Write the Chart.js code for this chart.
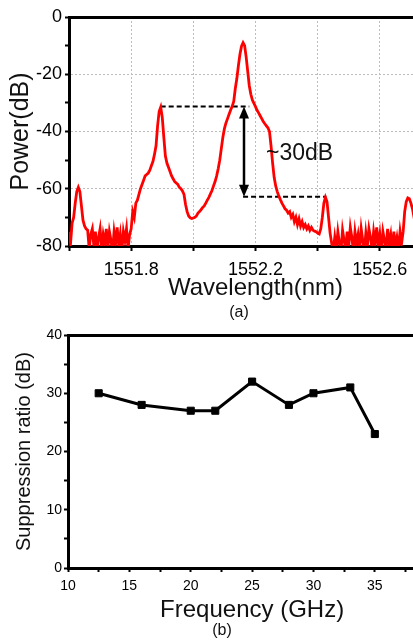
<!DOCTYPE html>
<html>
<head>
<meta charset="utf-8">
<script src="https://cdn.jsdelivr.net/npm/chart.js@4.4.0/dist/chart.umd.min.js"></script>
<style>
  html, body { margin: 0; padding: 0; background: #fff; overflow: hidden; }
  .wrap { position: relative; width: 413px; height: 641px; overflow: hidden; }
  canvas { position: absolute; left: 0; }
  #spectrumChart { top: 0; }
  #ratioChart { top: 320px; }
  .panel { position: absolute; width: 100px; text-align: center; font: 16px/16px "Liberation Sans", Arial, sans-serif; color: #111; }
</style>
</head>
<body>
<div class="wrap">
  <canvas id="spectrumChart" width="450" height="320"></canvas>
  <canvas id="ratioChart" width="450" height="321"></canvas>
  <div class="panel" style="left:189px; top:304px;">(a)</div>
  <div class="panel" style="left:172px; top:622px;">(b)</div>
</div>
<script>
// (a) optical spectrum, one sample every 5 pm starting at 1551.600 nm
const lambdaStart = 1551.6;
const lambdaStep = 0.005;
const power = [
  -75, -79, -72, -70, -65, -61, -59.5, -61, -66, -71,
  -73, -74, -74.5, -81, -76, -74, -80, -75, -82, -77,
  -74, -81, -76, -79, -74, -81, -75, -78, -82, -75,
  -79, -73.5, -80, -76, -82, -75, -78, -74, -81, -76,
  -74, -68, -70, -65, -64, -62, -60, -58.5, -57, -55.5,
  -55, -54.5, -53.5, -52, -50.5, -48, -45, -38, -33, -31.5,
  -35, -42, -48.5, -51, -52.5, -54, -55.5, -56.5, -57.5, -58,
  -58.5, -59.5, -60, -60.8, -62, -65.5, -68, -69.5, -70.2, -70.4,
  -70.2, -70, -69.5, -68.5, -68, -67.3, -66.5, -66, -65, -64,
  -63, -61.8, -60.6, -59, -57.5, -55.5, -53, -50, -46, -42,
  -39, -37, -35.5, -34, -32.5, -31.2, -29.5, -25, -21.5, -17,
  -13, -10.2, -9, -10, -14, -19, -24, -27, -29, -30.2,
  -31.3, -32.6, -33.5, -34.5, -35.5, -36.5, -37.3, -38, -38.7, -40,
  -45, -51, -56, -59, -61, -62.5, -63.8, -65, -66, -67,
  -67.5, -68.5, -68, -70, -69, -71.5, -70, -72.5, -70.5, -73,
  -71.5, -73.5, -72.5, -74, -73, -74.5, -73.5, -74.5, -74.8, -75,
  -75.5, -75.8, -74, -70, -65, -63, -64.5, -70, -75.5, -79,
  -82, -77, -81, -75, -79, -82, -74.5, -78, -81, -75,
  -80, -73.5, -77, -82, -75, -79, -76, -81, -74, -78,
  -82, -75.5, -80, -74, -77, -81, -75, -79, -73.5, -80,
  -76, -82, -75, -78, -81, -74, -79, -76, -82, -75,
  -80, -77, -81, -75, -79, -75, -68, -64.5, -63.2, -63.5,
  -65, -67, -70, -73
];
const wlTicks = [1551.6, 1551.8, 1552.0, 1552.2, 1552.4, 1552.6, 1552.8];
const wlLabels = [1551.8, 1552.2, 1552.6];
const powerTicks = [-80, -70, -60, -50, -40, -30, -20, -10, 0];
const powerLabels = [-80, -60, -40, -20, 0];
const powerGrid = [-60, -40, -20];

// the ~30 dB marker: two dashed reference levels and an arrow between them
const markLevels = [-31.3, -62.8];
const markStarts = [1551.895, 1552.160];
const markEnds = [1552.180, 1552.428];
const arrowAt = 1552.163;
const markText = '~30dB';
const markTextAt = [1552.234, -50];

// (b) suppression ratio vs frequency
const freq = [12.5, 16, 20, 22, 25, 28, 30, 33, 35];
const ratio = [30, 28, 27, 27, 32, 28, 30, 31, 23];
const freqTicks = [10, 12.5, 15, 17.5, 20, 22.5, 25, 27.5, 30, 32.5, 35, 37.5, 40];
const freqLabels = [10, 15, 20, 25, 30, 35, 40];
const ratioTicks = [0, 5, 10, 15, 20, 25, 30, 35, 40];
const ratioLabels = [0, 10, 20, 30, 40];

const near = (list, v) => list.some(t => Math.abs(t - v) < 1e-6);

Chart.defaults.font.family = '"Liberation Sans", Arial, sans-serif';
Chart.defaults.color = '#000';

const spectrum = power.map((p, i) => ({ x: lambdaStart + i * lambdaStep, y: p }));
const markLines = markLevels.map((lvl, i) => ({
    data: [{ x: markStarts[i], y: lvl }, { x: markEnds[i], y: lvl }],
    borderColor: '#000',
    borderWidth: 2,
    borderDash: [5, 3],
    pointRadius: 0
}));

const arrowMark = {
    id: 'arrowMark',
    afterDatasetsDraw(chart) {
        const { ctx, scales: { x, y } } = chart;
        const px = x.getPixelForValue(arrowAt);
        const yTop = y.getPixelForValue(markLevels[0]);
        const yBot = y.getPixelForValue(markLevels[1]);
        const head = 12, half = 5;
        ctx.save();
        ctx.strokeStyle = '#000';
        ctx.fillStyle = '#000';
        ctx.lineWidth = 2.5;
        ctx.beginPath();
        ctx.moveTo(px, yTop + head - 2);
        ctx.lineTo(px, yBot - head + 2);
        ctx.stroke();
        ctx.beginPath();
        ctx.moveTo(px, yTop);
        ctx.lineTo(px - half, yTop + head);
        ctx.lineTo(px + half, yTop + head);
        ctx.closePath();
        ctx.fill();
        ctx.beginPath();
        ctx.moveTo(px, yBot);
        ctx.lineTo(px - half, yBot - head);
        ctx.lineTo(px + half, yBot - head);
        ctx.closePath();
        ctx.fill();
        ctx.fillStyle = '#111';
        ctx.font = '23px "Liberation Sans", Arial, sans-serif';
        ctx.textBaseline = 'alphabetic';
        ctx.fillText(markText, x.getPixelForValue(markTextAt[0]), y.getPixelForValue(markTextAt[1]));
        ctx.restore();
    }
};

// thick top frame line, like the original plot box
function topFrame(min, max) {
    return {
        type: 'linear', position: 'top', min: min, max: max,
        ticks: { display: false },
        grid: { drawOnChartArea: false, drawTicks: false },
        border: { color: '#000', width: 3 },
        afterFit: s => { s.height = 0; }
    };
}

new Chart(document.getElementById('spectrumChart'), {
    type: 'line',
    data: {
        datasets: [{
            data: spectrum,
            borderColor: '#ff0000',
            borderWidth: 2.8,
            pointRadius: 0,
            tension: 0
        }].concat(markLines)
    },
    options: {
        responsive: false,
        animation: false,
        devicePixelRatio: 1,
        layout: { padding: { left: 0, top: 17, right: 6, bottom: 0 } },
        plugins: { legend: { display: false }, tooltip: { enabled: false } },
        scales: {
            x: {
                type: 'linear', min: 1551.6, max: 1552.8,
                afterBuildTicks: s => { s.ticks = wlTicks.map(v => ({ value: v })); },
                afterFit: s => { s.height = 74; },
                ticks: {
                    autoSkip: false, maxRotation: 0, padding: 8,
                    font: { size: 18 },
                    callback: v => near(wlLabels, v) ? v.toFixed(1) : ''
                },
                grid: {
                    color: c => (c.tick && c.tick.value > 1551.7) ? '#bdbdbd' : 'rgba(0,0,0,0)',
                    lineWidth: 1, tickLength: 5, tickColor: '#000', tickWidth: 2
                },
                border: { color: '#000', width: 3, dash: [2, 2] },
                title: { display: true, text: 'Wavelength(nm)', font: { size: 24 }, color: '#111', padding: { top: 0, bottom: 17 } }
            },
            x2: topFrame(1551.6, 1552.8),
            y: {
                min: -80, max: 0,
                afterBuildTicks: s => { s.ticks = powerTicks.map(v => ({ value: v })); },
                afterFit: s => { s.width = 69; },
                ticks: {
                    padding: 3, font: { size: 18 },
                    callback: v => near(powerLabels, v) ? String(v) : ''
                },
                grid: {
                    color: c => (c.tick && near(powerGrid, c.tick.value)) ? '#bdbdbd' : 'rgba(0,0,0,0)',
                    lineWidth: 1, tickLength: 4, tickColor: '#000', tickWidth: 2
                },
                border: { color: '#000', width: 3, dash: [2, 2] },
                title: { display: true, text: 'Power(dB)', font: { size: 25 }, color: '#111', padding: { top: 6, bottom: 0 } }
            }
        }
    },
    plugins: [arrowMark]
});

new Chart(document.getElementById('ratioChart'), {
    type: 'line',
    data: {
        datasets: [{
            data: freq.map((f, i) => ({ x: f, y: ratio[i] })),
            borderColor: '#000',
            backgroundColor: '#000',
            borderWidth: 3,
            pointStyle: 'rect',
            pointRadius: 5,
            pointBorderWidth: 1,
            tension: 0
        }]
    },
    options: {
        responsive: false,
        animation: false,
        devicePixelRatio: 1,
        layout: { padding: { left: 0, top: 15, right: 4, bottom: 0 } },
        plugins: { legend: { display: false }, tooltip: { enabled: false } },
        scales: {
            x: {
                type: 'linear', min: 10, max: 40,
                afterBuildTicks: s => { s.ticks = freqTicks.map(v => ({ value: v })); },
                afterFit: s => { s.height = 73; },
                ticks: {
                    autoSkip: false, maxRotation: 0, padding: 6,
                    font: { size: 14 },
                    callback: v => near(freqLabels, v) ? String(v) : ''
                },
                grid: { drawOnChartArea: false, tickLength: 4, tickColor: '#000', tickWidth: 2 },
                border: { color: '#000', width: 3 },
                title: { display: true, text: 'Frequency (GHz)', font: { size: 24 }, color: '#111', padding: { top: 0, bottom: 16.5 } }
            },
            x2: topFrame(10, 40),
            y: {
                min: 0, max: 40,
                afterBuildTicks: s => { s.ticks = ratioTicks.map(v => ({ value: v })); },
                afterFit: s => { s.width = 68; },
                ticks: {
                    padding: 2, font: { size: 14 },
                    callback: v => near(ratioLabels, v) ? String(v) : ''
                },
                grid: { drawOnChartArea: false, tickLength: 4, tickColor: '#000', tickWidth: 2 },
                border: { color: '#000', width: 3 },
                title: { display: true, text: 'Suppression ratio (dB)', font: { size: 20 }, color: '#111', padding: { top: 12, bottom: 0 } }
            }
        }
    }
});
</script>
</body>
</html>
